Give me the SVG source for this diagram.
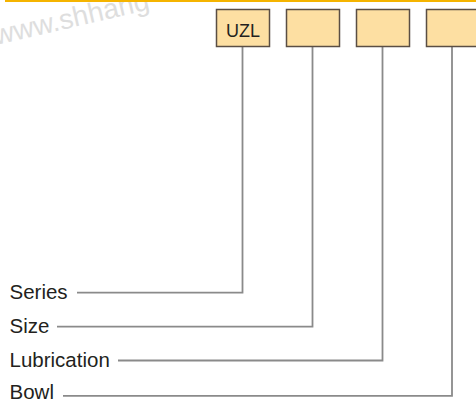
<svg xmlns="http://www.w3.org/2000/svg" width="476" height="402" viewBox="0 0 476 402">
<style>
.box{fill:#FDDFA2;stroke:#5a4e44;stroke-width:1.5}
.conn{fill:none;stroke:#8a8a8a;stroke-width:1.8}
.lbl{font-family:"Liberation Sans",Arial,sans-serif;font-size:20.5px;fill:#231f20}
.code{font-family:"Liberation Sans",Arial,sans-serif;font-size:18px;fill:#231f20;text-anchor:middle}
.wm{font-family:"Liberation Sans",Arial,sans-serif;font-size:28px;fill:#dedede}
</style>
<text class="wm" transform="translate(-4,45) rotate(-13)">www.shhang</text>
<rect x="5" y="0" width="471" height="2" fill="#F5B400"/>
<g id="connectors">
<polyline class="conn" points="77,292.7 242.5,292.7 242.5,46.5"/>
<polyline class="conn" points="57,326.7 312.5,326.7 312.5,46.5"/>
<polyline class="conn" points="118,360.5 382.5,360.5 382.5,46.5"/>
<polyline class="conn" points="63,395.8 452,395.8 452,46.5"/>
</g>
<g id="box-series"><rect class="box" x="216.5" y="9.5" width="53" height="37"/><text class="code" x="243" y="36.5">UZL</text></g>
<g id="box-size"><rect class="box" x="286.5" y="9.5" width="53" height="37"/></g>
<g id="box-lubrication"><rect class="box" x="356.5" y="9.5" width="53" height="37"/></g>
<g id="box-bowl"><rect class="box" x="426.5" y="9.5" width="53" height="37"/></g>
<g id="label-series"><text class="lbl" x="9.5" y="298.5">Series</text></g>
<g id="label-size"><text class="lbl" x="9.5" y="332.5">Size</text></g>
<g id="label-lubrication"><text class="lbl" x="9.5" y="366.5">Lubrication</text></g>
<g id="label-bowl"><text class="lbl" x="9.5" y="399">Bowl</text></g>
</svg>
